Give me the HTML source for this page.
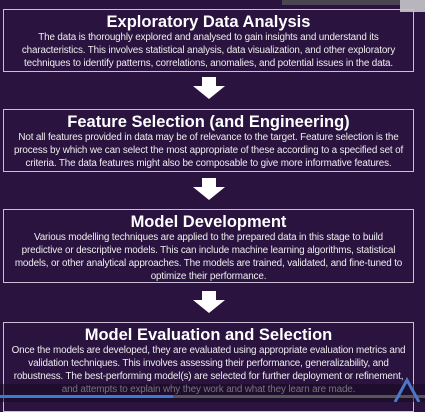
<!DOCTYPE html>
<html><head><style>
body{margin:0;width:425px;height:402px;background:#2b1340;overflow:hidden;position:relative;font-family:"Liberation Sans",sans-serif;color:#fff}
.b{position:absolute;left:3px;width:411px;border:1.5px solid #cbbfd6;text-align:center;box-sizing:border-box}
.t{font-weight:bold;font-size:16.5px;line-height:18px;margin-top:3px}
.p{font-size:9.9px;line-height:13px;color:#eee;letter-spacing:-0.15px;white-space:nowrap}
.a{position:absolute;left:193px;width:32px;height:22px}
</style></head><body>
<div style="position:absolute;left:282px;top:0;width:118px;height:5px;background:#4a4550"></div>
<div style="position:absolute;left:400px;top:0;width:25px;height:12px;background:#b8b5bc"></div>
<div class="b" style="top:9px;height:63px"><div class="t">Exploratory Data Analysis</div><div class="p">The data is thoroughly explored and analysed to gain insights and understand its<br>characteristics. This involves statistical analysis, data visualization, and other exploratory<br>techniques to identify patterns, correlations, anomalies, and potential issues in the data.</div></div>
<svg class="a" style="top:77px" viewBox="0 0 32 22"><polygon points="9,0 23,0 23,9 32,9 16,22 0,9 9,9" fill="#fff"/></svg>
<div class="b" style="top:109px;height:63px"><div class="t">Feature Selection (and Engineering)</div><div class="p">Not all features provided in data may be of relevance to the target. Feature selection is the<br>process by which we can select the most appropriate of these according to a specified set of<br>criteria. The data features might also be composable to give more informative features.</div></div>
<svg class="a" style="top:178px" viewBox="0 0 32 22"><polygon points="9,0 23,0 23,9 32,9 16,22 0,9 9,9" fill="#fff"/></svg>
<div class="b" style="top:209px;height:74px"><div class="t">Model Development</div><div class="p">Various modelling techniques are applied to the prepared data in this stage to build<br>predictive or descriptive models. This can include machine learning algorithms, statistical<br>models, or other analytical approaches. The models are trained, validated, and fine-tuned to<br>optimize their performance.</div></div>
<svg class="a" style="top:291px" viewBox="0 0 32 22"><polygon points="9,0 23,0 23,9 32,9 16,22 0,9 9,9" fill="#fff"/></svg>
<div class="b" style="top:322px;height:90px"><div class="t">Model Evaluation and Selection</div><div class="p">Once the models are developed, they are evaluated using appropriate evaluation metrics and<br>validation techniques. This involves assessing their performance, generalizability, and<br>robustness. The best-performing model(s) are selected for further deployment or refinement,<br>and attempts to explain why they work and what they learn are made.</div></div>
<div style="position:absolute;left:0;top:384px;width:425px;height:18px;background:rgba(20,10,30,0.55)"></div>
<div style="position:absolute;left:0;top:395px;width:425px;height:3px;background:#555"></div>
<div style="position:absolute;left:0;top:395px;width:173px;height:3px;background:#3a7bd5"></div>
<svg style="position:absolute;left:392px;top:374px" width="30" height="28"><polyline points="3,28 15,6 27,28" fill="none" stroke="#4a78c8" stroke-width="3"/></svg>
</body></html>
